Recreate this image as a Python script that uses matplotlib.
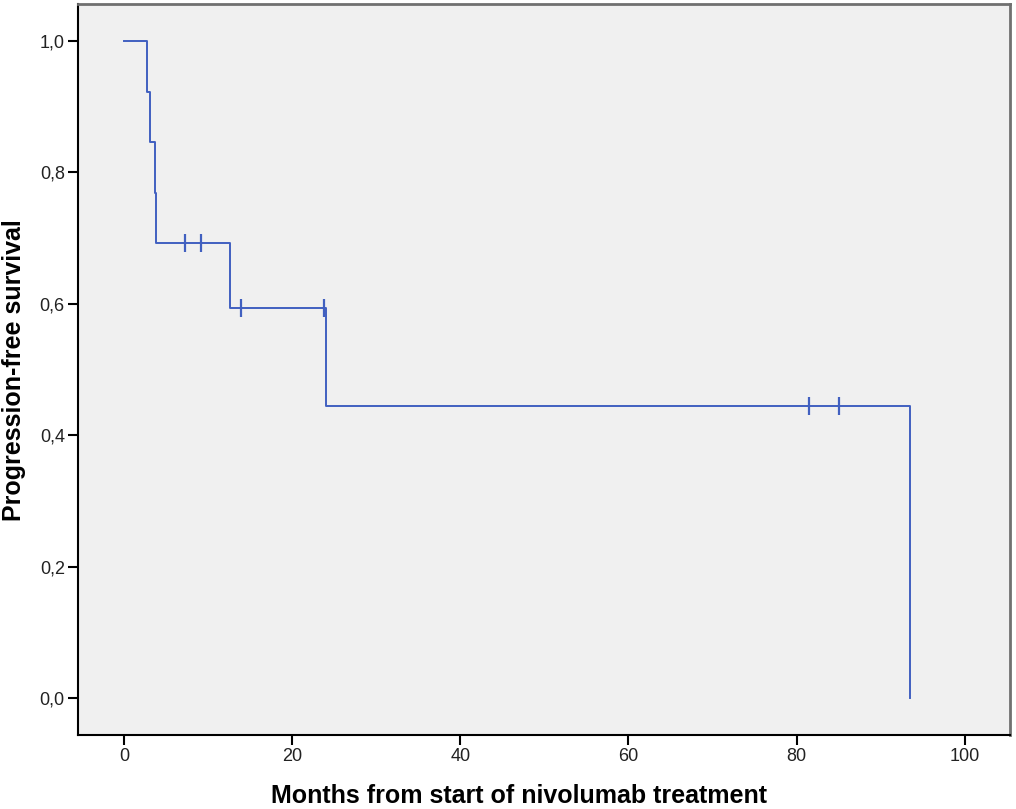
import numpy as np
from matplotlib import pyplot as plt

# Kaplan-Meier step curve
step_times = [0, 2.7, 3.1, 3.7, 3.8, 12.6, 24.0, 93.5]
step_surv = [1.0, 0.923, 0.846, 0.769, 0.692, 0.593, 0.445, 0.0]
censor_times = [7.2, 9.2, 13.9, 23.8, 81.5, 85.0]
censor_surv = [0.692, 0.692, 0.593, 0.593, 0.445, 0.445]

x_ticks = [0, 20, 40, 60, 80, 100]
y_ticks = [0.0, 0.2, 0.4, 0.6, 0.8, 1.0]
y_labels = ["0,0", "0,2", "0,4", "0,6", "0,8", "1,0"]

plt.rcParams["font.family"] = ["Liberation Sans", "DejaVu Sans"]

fig = plt.figure(figsize=(10.16, 8.09), dpi=100)
ax = fig.add_axes([0.0768, 0.0915, 0.917, 0.9035])
ax.set_facecolor("#f0f0f0")

line_col = "#4160c0"
ax.step(step_times, step_surv, where="post", color=line_col, lw=1.4)
ax.plot(censor_times, censor_surv, ls="none", marker="|", ms=13, mew=1.6,
        color=line_col)

ax.set_xlim(-5.47, 105.35)
ax.set_ylim(-0.0563, 1.0563)
ax.set_xticks(x_ticks)
ax.set_yticks(y_ticks)
ax.set_yticklabels(y_labels)
ax.tick_params(direction="out", length=7.5, width=1.5, labelsize=13,
               colors="black", pad=2, labelcolor="#222222")

for side in ["left", "bottom"]:
    ax.spines[side].set_color("black")
    ax.spines[side].set_linewidth(1.5)
for side in ["top", "right"]:
    ax.spines[side].set_color("#707070")
    ax.spines[side].set_linewidth(2.0)

fig.text(0.511, 0.0165, "Months from start of nivolumab treatment",
         fontsize=18, fontweight="bold", ha="center", va="center")
fig.text(0.0138, 0.543, "Progression-free survival", fontsize=18,
         fontweight="bold", ha="center", va="center", rotation=90)

fig.savefig("out.png", dpi=100)
